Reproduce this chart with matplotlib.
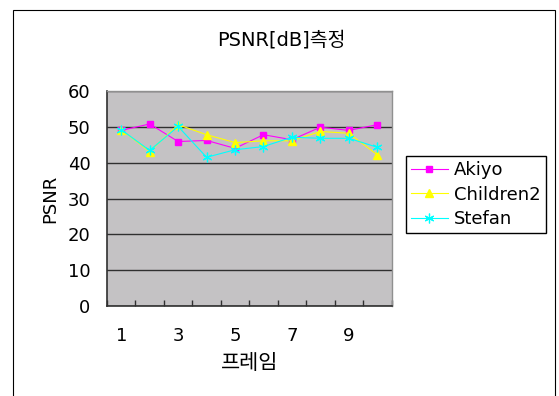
import matplotlib.pyplot as plt
from matplotlib.patches import Rectangle

plt.rcParams['font.family'] = ['DejaVu Sans', 'Noto Sans CJK KR']

frames = [1, 2, 3, 4, 5, 6, 7, 8, 9, 10]
akiyo = [49.0, 50.8, 45.9, 46.2, 44.0, 47.8, 46.4, 49.9, 49.0, 50.6]
children2 = [49.2, 43.1, 50.6, 47.8, 45.6, 46.1, 46.1, 48.7, 48.2, 42.2]
stefan = [49.2, 43.4, 50.1, 41.5, 43.6, 44.5, 47.1, 46.8, 46.8, 44.3]
tick_labels = ['1', '3', '5', '7', '9']

fig = plt.figure(figsize=(5.59, 3.96), dpi=100)
# outer chart border (runs off the bottom of the image)
top = 1 - 10 / 396
fig.patches.append(Rectangle((12.5 / 559, -0.1), (555 - 12.5) / 559, top + 0.1,
                             transform=fig.transFigure, fill=False, edgecolor='black', linewidth=0.8))

ax = fig.add_axes([107 / 559, 1 - 306 / 396, (391.5 - 107) / 559, (306 - 91) / 396])
ax.set_facecolor('#C4C2C4')

ax.plot(frames, akiyo, color='#FF00FF', marker='s', markersize=5, linewidth=0.8, label='Akiyo')
ax.plot(frames, children2, color='#FFFF00', marker='^', markersize=6, linewidth=0.8, label='Children2')
ax.plot(frames, stefan, color='#00FFFF', marker=(6, 2, 0), markersize=7, markeredgewidth=0.9,
        linewidth=0.8, label='Stefan')

ax.set_xlim(0.5, 10.5)
ax.set_ylim(0, 60)
ax.set_yticks(range(0, 61, 10))
ax.yaxis.grid(True, color='#303030', linewidth=1)
ax.set_axisbelow(True)
ax.tick_params(axis='y', length=0, pad=12, labelsize=13)

ax.set_xticks([i + 0.5 for i in range(0, 11)])
ax.set_xticklabels([])
ax.tick_params(axis='x', which='major', direction='in', length=4, color='#303030', width=1)
ax.set_xticks([1, 3, 5, 7, 9], minor=True)
ax.set_xticklabels(tick_labels, minor=True)
ax.tick_params(axis='x', which='minor', length=0, pad=15, labelsize=13)

for s in ['left', 'bottom']:
    ax.spines[s].set_color('#303030')
    ax.spines[s].set_linewidth(1.2)
for s in ['top', 'right']:
    ax.spines[s].set_color('#909090')
    ax.spines[s].set_linewidth(1)

ax.set_xlabel('프레임', fontsize=15, labelpad=6)
ax.set_ylabel('PSNR', fontsize=13, labelpad=6)
fig.text(281 / 559, 1 - 40 / 396, 'PSNR[dB]측정', fontsize=14, ha='center', va='center')

fig.legend(loc='upper left', bbox_to_anchor=(406 / 559, 1 - 156 / 396), fontsize=13,
           fancybox=False, frameon=True, edgecolor='black', framealpha=1,
           handlelength=2.0, handletextpad=0.35, labelspacing=0.35, borderpad=0.3,
           borderaxespad=0)

fig.savefig('out.png', dpi=100)
